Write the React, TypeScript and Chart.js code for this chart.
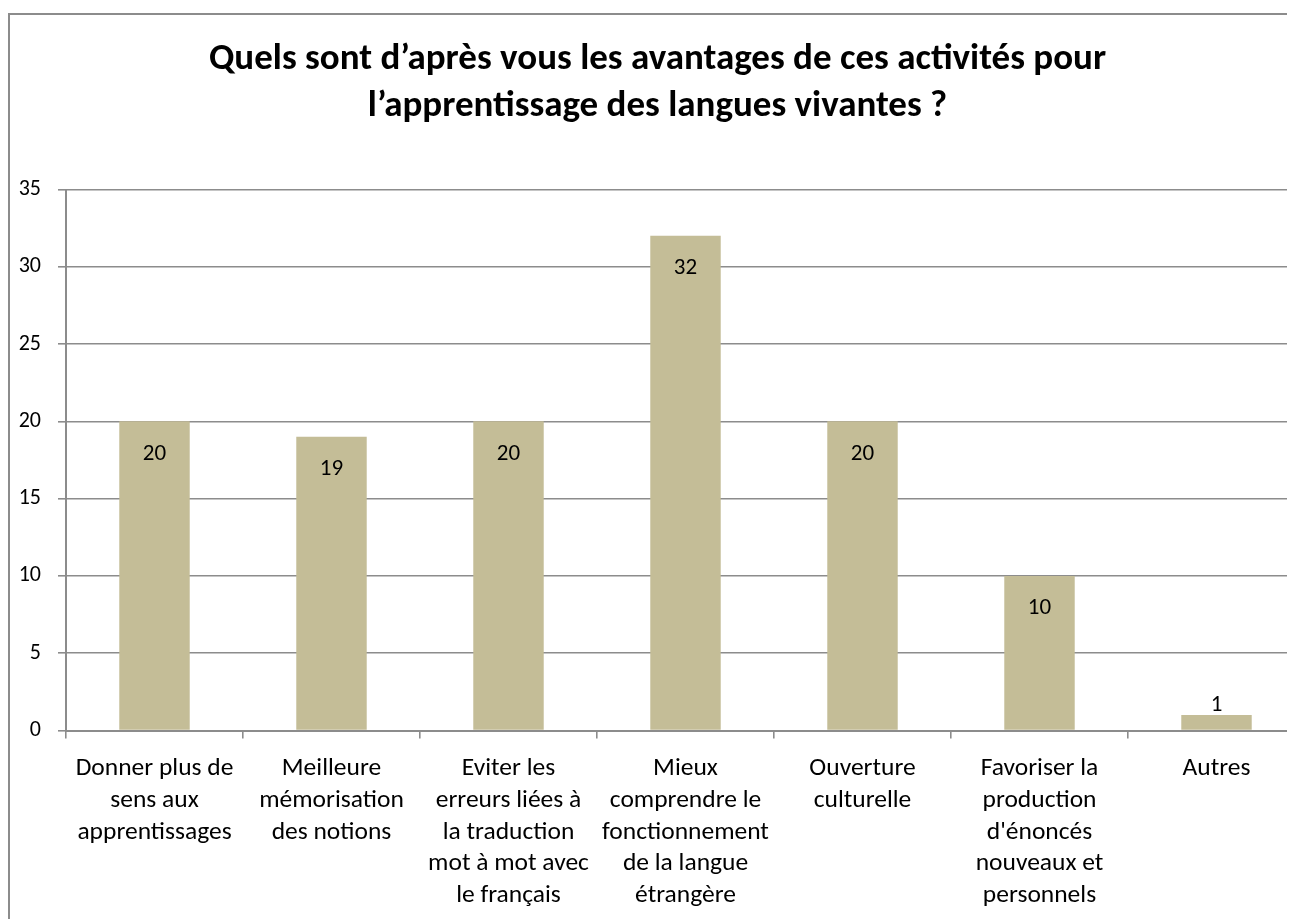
import { useEffect, useRef } from "react";
import { Chart, registerables } from "chart.js";

Chart.register(...registerables);

const FONT = "Carlito, Lato, sans-serif";

const titleLines = [
  "Quels sont d’après vous les avantages de ces activités pour",
  "l’apprentissage des langues vivantes ?",
];

const categories: string[][] = [
  ["Donner plus de", "sens aux", "apprentissages"],
  ["Meilleure", "mémorisation", "des notions"],
  ["Eviter les", "erreurs liées à", "la traduction", "mot à mot avec", "le français"],
  ["Mieux", "comprendre le", "fonctionnement", "de la langue", "étrangère"],
  ["Ouverture", "culturelle"],
  ["Favoriser la", "production", "d'énoncés", "nouveaux et", "personnels"],
  ["Autres"],
];

const values = [20, 19, 20, 32, 20, 10, 1];

const yMin = 0;
const yMax = 35;
const yStep = 5;

const CANVAS_W = 1295;
const CANVAS_H = 930;

const dataLabels = {
  id: "dataLabels",
  afterDatasetsDraw(chart: any) {
    const ctx = chart.ctx;
    const meta = chart.getDatasetMeta(0);
    ctx.save();
    ctx.font = `23px ${FONT}`;
    ctx.fillStyle = "#000";
    ctx.textAlign = "center";
    ctx.textBaseline = "alphabetic";
    meta.data.forEach((bar: any, i: number) => {
      const { x, y, base } = bar.getProps(["x", "y", "base"], true);
      const h = base - y;
      const ty = h > 45 ? y + 38.5 : y - 4;
      ctx.fillText(String(values[i]), x, ty);
    });
    ctx.restore();
  },
};

export default function App() {
  const ref = useRef<HTMLCanvasElement>(null);

  useEffect(() => {
    if (!ref.current) return;
    const chart = new Chart(ref.current, {
      type: "bar",
      data: {
        labels: categories,
        datasets: [
          {
            data: values,
            backgroundColor: "#C4BD97",
            borderWidth: 0,
            categoryPercentage: 1,
            barPercentage: 0.398,
          },
        ],
      },
      options: {
        responsive: false,
        animation: false,
        layout: { padding: { top: 0, left: 0, right: 0, bottom: 0 } },
        plugins: {
          legend: { display: false },
          tooltip: { enabled: false },
          title: {
            display: true,
            text: titleLines,
            color: "#000",
            font: { family: FONT, size: 37, weight: "bold", lineHeight: 1.25 },
            padding: { top: 22, bottom: 60 },
          },
        },
        scales: {
          x: {
            offset: true,
            grid: {
              offset: true,
              drawOnChartArea: false,
              drawTicks: true,
              tickLength: 8,
              color: "#8c8c8c",
              lineWidth: 1.6,
            },
            border: { color: "#8c8c8c", width: 2 },
            ticks: {
              color: "#000",
              font: { family: FONT, size: 25.5, lineHeight: 1.25 },
              padding: 14,
              maxRotation: 0,
              minRotation: 0,
              autoSkip: false,
            },
            afterFit(scale: any) {
              scale.height = CANVAS_H - 715.5;
            },
          },
          y: {
            min: yMin,
            max: yMax,
            ticks: {
              stepSize: yStep,
              color: "#000",
              font: { family: FONT, size: 22 },
              padding: 17,
            },
            grid: {
              color: "#8c8c8c",
              lineWidth: 1.6,
              tickLength: 8,
              drawTicks: true,
            },
            border: { color: "#8c8c8c", width: 2 },
            afterFit(scale: any) {
              scale.width = 56;
            },
          },
        },
      },
      plugins: [dataLabels],
    });
    return () => chart.destroy();
  }, []);

  return (
    <div
      style={{
        width: 1287,
        height: 911,
        overflow: "hidden",
        paddingTop: 5,
        boxSizing: "border-box",
        background: "#fff",
      }}
    >
      <div
        style={{
          borderTop: "2px solid #8c8c8c",
          borderLeft: "2px solid #8c8c8c",
          width: CANVAS_W + 2,
          height: CANVAS_H + 2,
        }}
      >
        <canvas ref={ref} width={CANVAS_W} height={CANVAS_H} style={{ display: "block" }} />
      </div>
    </div>
  );
}
